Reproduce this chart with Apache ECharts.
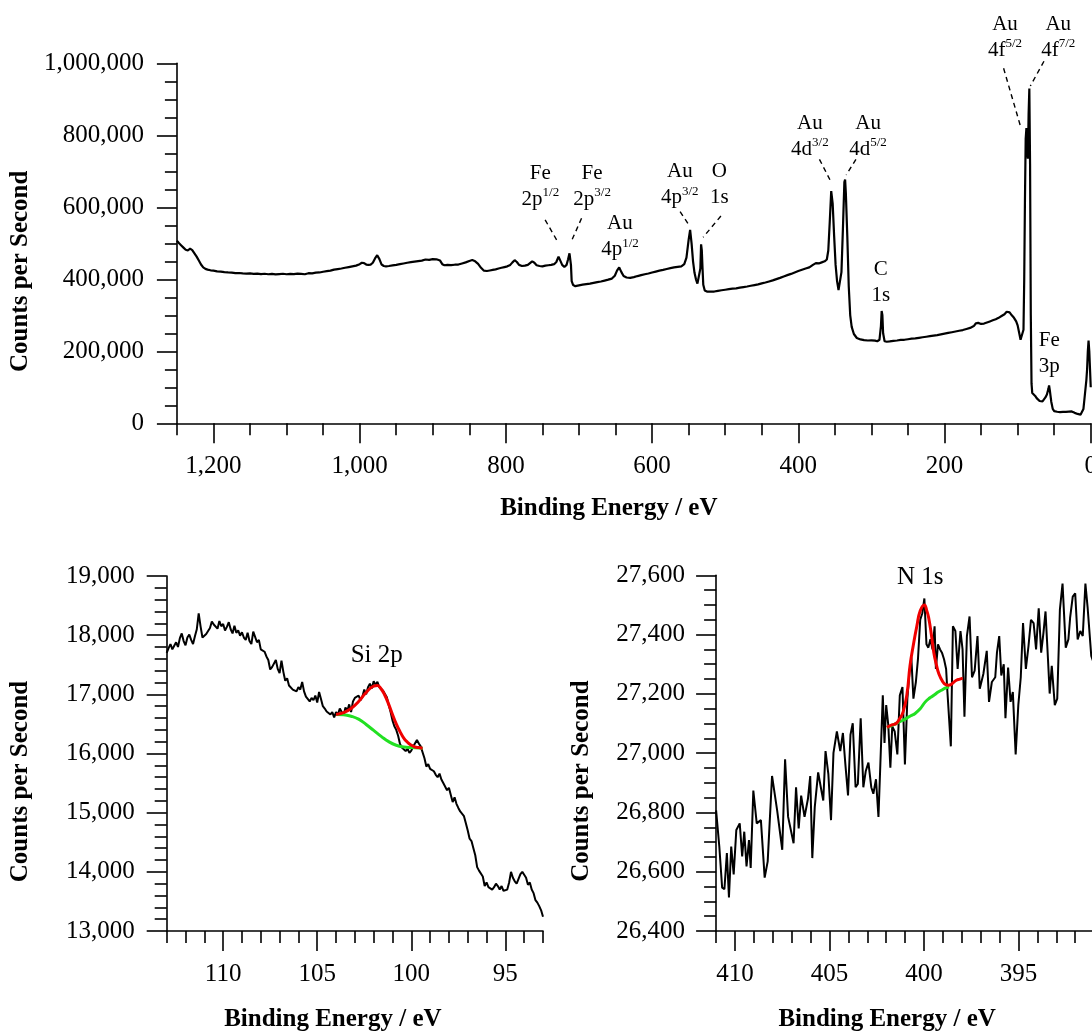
<!DOCTYPE html>
<html>
<head>
<meta charset="utf-8">
<script src="https://cdn.jsdelivr.net/npm/echarts@6/dist/echarts.min.js"></script>
<style>
html,body{margin:0;padding:0;overflow:hidden;background:#fff;}
#chart{width:1100px;height:1033px;}
</style>
</head>
<body>
<div id="chart"></div>
<script>
// ---------- DATA ----------
// Survey spectrum: [binding energy (eV), counts per second]
const surveySpectrum = [
[1250,507000],[1247,500000],[1244,494000],[1241,488000],[1238,482000],[1235,480000],[1232,485000],[1229,481000],
[1226,472000],[1223,463000],[1220,452000],[1217,441000],[1214,433000],[1211,429000],[1208,427000],[1204,425000],
[1200,424000],[1195,422000],[1190,421500],[1185,420000],[1180,419000],[1175,418500],[1170,417000],[1165,417500],
[1160,416500],[1155,416000],[1150,416500],[1145,415000],[1140,416000],[1135,414500],[1130,415500],[1125,414000],
[1120,415000],[1115,413500],[1110,414500],[1105,415500],[1100,414000],[1095,415000],[1090,414500],[1085,416000],
[1080,415000],[1075,414000],[1070,417000],[1065,416500],[1060,418500],[1055,419000],[1050,421000],[1045,422500],
[1040,424000],[1035,427000],[1030,428500],[1025,430000],[1020,432000],[1015,434000],[1010,436000],[1005,438000],
[1000,442000],[997,446000],[994,445000],[991,441000],[988,440000],[985,441000],[982,446000],[979,458000],
[976,467000],[973,456000],[970,441000],[967,437000],[964,436000],[960,437000],[955,438500],[950,440000],
[945,442000],[940,444000],[935,446000],[930,447500],[925,449000],[920,450500],[915,452000],[910,455000],
[905,454000],[900,456000],[895,455500],[890,452000],[887,442000],[884,439000],[880,440000],[875,439500],
[870,440500],[865,441000],[860,444000],[855,447000],[850,451000],[846,453500],[842,450000],[838,443000],
[834,432000],[830,424000],[826,423000],[822,424500],[818,426000],[814,427500],[810,430000],[806,432000],
[802,434000],[798,436000],[794,440000],[791,447000],[788,453000],[785,448000],[782,440000],[778,437000],
[774,438000],[770,440000],[767,445000],[764,450000],[761,446000],[758,439000],[754,437000],[750,436000],
[746,438000],[742,439000],[738,440000],[734,442000],[731,448000],[728,463000],[726,460000],[723,440000],
[720,434000],[717,440000],[715,455000],[713,472000],[711,440000],[710,395000],[708,384000],[705,381000],
[700,383000],[695,385000],[690,386500],[685,388000],[680,390000],[675,392000],[670,394000],[665,396500],
[660,399000],[655,402000],[651,410000],[648,424000],[645,433000],[642,420000],[639,409000],[635,405000],
[630,404000],[625,406000],[620,409000],[615,411500],[610,414000],[605,416000],[600,419000],[595,421500],
[590,424000],[585,426000],[580,428500],[575,431000],[570,433000],[565,434500],[560,436000],[556,442000],
[553,460000],[550,510000],[548,537000],[546,500000],[544,450000],[542,418000],[540,400000],[538,388000],
[536,386000],[534,430000],[533,497000],[532,480000],[531,430000],[530,385000],[528,369000],[525,366000],
[520,365500],[515,366000],[510,368000],[505,369500],[500,371000],[495,372500],[490,374000],[485,375000],
[480,377000],[475,378500],[470,380000],[465,382000],[460,384000],[455,386000],[450,388500],[445,391000],
[440,394000],[435,397000],[430,400500],[425,404000],[420,408000],[415,411500],[410,415000],[405,419000],
[400,423000],[395,426500],[390,430000],[385,433000],[380,440000],[376,445000],[372,444000],[368,447000],
[364,450000],[361,455000],[359,480000],[357,560000],[355,645000],[354,648000],[353,610000],[351,520000],
[349,440000],[347,395000],[345,370000],[343,375000],[341,420000],[339,540000],[337,670000],[336,677000],
[335,640000],[333,520000],[331,380000],[329,300000],[327,268000],[324,248000],[320,237000],[315,233000],
[310,231000],[305,230000],[300,230500],[295,229500],[292,228000],[289,232000],[287,270000],[286,312000],
[285,300000],[284,250000],[282,228000],[279,226500],[275,227500],[270,229000],[265,230000],[260,231500],
[255,232000],[250,233500],[245,235000],[240,236000],[235,237500],[230,239000],[225,240500],[220,242000],
[215,243500],[210,245000],[205,247000],[200,249000],[195,251000],[190,253000],[185,255000],[180,257000],
[175,259000],[170,262000],[165,265000],[160,270000],[157,278000],[154,279000],[150,276000],[146,277000],
[142,280000],[138,283000],[134,286000],[130,289000],[126,293000],[122,298000],[118,303000],[115,310000],
[113,315000],[111,308000],[108,300000],[105,293000],[102,283000],[100,272000],[98,252000],[96,232000],
[94,229000],[92,260000],[91,400000],[90,620000],[89,790000],[88,820000],[87,760000],[86,735000],
[85,860000],[84,930000],[83,720000],[82,300000],[81,110000],[80,84000],[78,80000],[76,76000],
[74,70000],[72,65000],[70,62000],[68,60000],[66,61000],[64,66000],[62,72000],[60,80000],
[58,95000],[57,105000],[56,92000],[54,60000],[52,40000],[50,34000],[46,32000],[42,31000],
[38,31500],[34,32000],[30,32500],[26,33000],[22,29000],[18,26000],[14,24000],[12,23500],
[10,40000],[8,80000],[6,120000],[5,150000],[4,200000],[3,230000],[2,200000],[1,150000],[0,100000]
];
// Peak annotation texts: [element, orbital, spin-orbit superscript]
const peakNames = [
["Fe","2p","1/2"],["Fe","2p","3/2"],["Au","4p","1/2"],["Au","4p","3/2"],["O","1s",""],
["Au","4d","3/2"],["Au","4d","5/2"],["C","1s",""],["Au","4f","5/2"],["Au","4f","7/2"],["Fe","3p",""]
];
// anchor of each annotation in data units [eV, cps]
const peakLabelAnchors = [
[752.9,658300],[682.1,658300],[644.0,518600],[562.1,662200],[508.2,662200],
[384.2,797200],[304.6,797200],[287.1,390000],[117.3,1072200],[44.5,1072200],[56.6,193600]
];
// dashed leader lines in data units [[eV,cps],[eV,cps]]
const leaderLines = [
[[746.3,565000],[728.4,501700]],
[[696.5,569400],[711.3,501700]],
[[561.7,587800],[549.6,550800]],
[[505.9,575800],[530.2,516700]],
[[371.1,733300],[354.7,668300]],
[[321.2,733300],[334.4,689700]],
[[119.2,986100],[96.4,827200]],
[[64.0,1005800],[82.6,936900]]
];

// Si 2p region
const si2pSpectrum = [
[113.0,17700],[112.9,17780],[112.8,17850],[112.7,17760],[112.6,17820],[112.5,17880],[112.4,17800],[112.3,17950],
[112.2,18030],[112.1,17900],[112.0,17830],[111.9,17960],[111.8,18010],[111.7,17920],[111.6,17850],[111.5,17980],
[111.4,18100],[111.3,18370],[111.2,18150],[111.1,17960],[111.0,17990],[110.9,18020],[110.8,18000],[110.7,18120],
[110.6,18230],[110.5,18180],[110.4,18210],[110.3,18110],[110.2,18240],[110.1,18150],[110.0,18190],[109.9,18080],
[109.8,18140],[109.7,18220],[109.6,18100],[109.5,18030],[109.4,18160],[109.3,18040],[109.2,18080],[109.1,17990],
[109.0,18050],[108.9,17960],[108.8,17920],[108.7,18040],[108.6,17900],[108.5,17850],[108.4,18060],[108.3,18070],
[108.2,17880],[108.1,17920],[108.0,17760],[107.9,17770],[107.8,17720],[107.7,17640],[107.6,17580],[107.5,17420],
[107.4,17460],[107.3,17490],[107.2,17580],[107.1,17430],[107.0,17360],[106.9,17570],[106.8,17380],[106.7,17230],
[106.6,17270],[106.5,17150],[106.4,17180],[106.3,17080],[106.2,17100],[106.1,17050],[106.0,17120],[105.9,17080],
[105.8,17210],[105.7,17050],[105.6,16960],[105.5,16930],[105.4,16880],[105.3,16940],[105.2,16900],[105.1,16980],
[105.0,16860],[104.9,17040],[104.8,16920],[104.7,16800],[104.6,16760],[104.5,16710],[104.4,16740],[104.3,16660],
[104.2,16700],[104.1,16610],[104.0,16700],[103.9,16660],[103.8,16760],[103.7,16700],[103.6,16640],[103.5,16780],
[103.4,16720],[103.3,16830],[103.2,16700],[103.1,16880],[103.0,16940],[102.9,16920],[102.8,16980],[102.7,16900],
[102.6,16960],[102.5,17080],[102.4,17000],[102.3,17120],[102.2,17180],[102.1,17100],[102.0,17220],[101.9,17160],
[101.8,17210],[101.7,17120],[101.6,17100],[101.5,17060],[101.4,17040],[101.3,16950],[101.2,16820],[101.1,16700],
[101.0,16560],[100.9,16460],[100.8,16400],[100.7,16300],[100.6,16160],[100.5,16100],[100.4,16120],[100.3,16040],
[100.2,16080],[100.1,16010],[100.0,16050],[99.9,16120],[99.8,16090],[99.7,16230],[99.6,16170],[99.5,16120],
[99.4,16100],[99.3,15920],[99.2,15780],[99.1,15820],[99.0,15740],[98.9,15760],[98.8,15700],[98.7,15640],
[98.6,15600],[98.5,15660],[98.4,15560],[98.3,15500],[98.2,15480],[98.1,15380],[98.0,15420],[97.9,15300],
[97.8,15180],[97.7,15260],[97.6,15150],[97.5,15080],[97.4,15020],[97.3,14990],[97.2,14940],[97.1,14820],
[97.0,14700],[96.9,14560],[96.8,14520],[96.7,14400],[96.6,14280],[96.5,14080],[96.4,14020],[96.3,13990],
[96.2,13920],[96.1,13760],[96.0,13820],[95.9,13740],[95.8,13760],[95.7,13700],[95.6,13740],[95.5,13800],
[95.4,13760],[95.3,13700],[95.2,13760],[95.1,13680],[95.0,13650],[94.9,13700],[94.8,13820],[94.7,14000],
[94.6,13900],[94.5,13840],[94.4,13800],[94.3,13880],[94.2,13960],[94.1,14000],[94.0,14020],[93.9,13900],
[93.8,13780],[93.7,13820],[93.6,13700],[93.5,13640],[93.4,13520],[93.3,13480],[93.2,13420],[93.1,13350],
[93.0,13240]
];
const si2pEnvelope = [
[104.0,16660],[103.6,16690],[103.2,16760],[102.8,16880],[102.4,17030],[102.0,17140],[101.8,17150],[101.6,17090],
[101.4,16980],[101.2,16830],[101.0,16660],[100.8,16500],[100.6,16370],[100.4,16260],[100.2,16190],[100.0,16140],
[99.8,16110],[99.6,16100],[99.4,16090]
];
const si2pBackground = [
[104.0,16660],[103.6,16655],[103.2,16630],[102.8,16580],[102.4,16490],[102.0,16390],[101.6,16290],[101.2,16200],
[100.8,16140],[100.4,16110],[100.0,16100],[99.6,16095],[99.4,16090]
];
const si2pLabel = [[101.84,17650,"Si 2p"]];

// N 1s region
const n1sSpectrum = [
[411.0,26807],[410.83,26685],[410.68,26546],[410.56,26541],[410.43,26663],[410.32,26513],[410.2,26685],[410.07,26591],
[409.93,26741],[409.75,26763],[409.62,26652],[409.51,26735],[409.39,26618],[409.26,26707],[409.17,26613],[409.03,26874],
[408.85,26763],[408.63,26774],[408.43,26580],[408.27,26635],[408.04,26923],[407.77,26807],[407.5,26674],[407.35,26979],
[407.19,26785],[406.9,26696],[406.77,26885],[406.63,26746],[406.5,26857],[406.32,26785],[406.14,26846],[406.02,26923],
[405.91,26646],[405.78,26818],[405.6,26935],[405.46,26885],[405.33,26840],[405.21,27007],[405.06,26929],[404.92,26774],
[404.79,27001],[404.61,27073],[404.43,27007],[404.29,27068],[404.16,26962],[404.02,26857],[403.89,27062],[403.77,27101],
[403.62,26885],[403.5,26896],[403.35,27118],[403.21,26885],[403.08,26940],[402.94,26968],[402.79,26885],[402.68,26863],
[402.54,26912],[402.41,26785],[402.31,26962],[402.18,27195],[402.09,27034],[402.0,27162],[401.89,27095],[401.78,26951],
[401.68,27090],[401.55,27073],[401.41,26996],[401.28,27195],[401.14,27223],[401.01,26962],[400.88,27184],[400.77,27273],
[400.67,27323],[400.56,27184],[400.43,27240],[400.32,27317],[400.2,27450],[400.09,27472],[399.98,27522],[399.87,27367],
[399.77,27356],[399.66,27384],[399.55,27350],[399.44,27428],[399.37,27284],[399.26,27367],[399.15,27350],[399.05,27339],
[398.94,27317],[398.83,27284],[398.76,27206],[398.58,27023],[398.47,27428],[398.34,27412],[398.22,27284],[398.07,27412],
[397.96,27350],[397.86,27123],[397.73,27395],[397.59,27461],[397.46,27256],[397.32,27278],[397.17,27395],[397.05,27217],
[396.86,27267],[396.68,27345],[396.56,27173],[396.41,27240],[396.23,27256],[396.14,27339],[396.02,27395],[395.91,27262],
[395.78,27300],[395.69,27118],[395.55,27289],[395.42,27173],[395.3,27206],[395.15,26996],[395.01,27162],[394.88,27256],
[394.76,27439],[394.61,27284],[394.47,27362],[394.34,27450],[394.2,27439],[394.07,27350],[393.93,27489],[393.8,27339],
[393.68,27406],[393.57,27478],[393.44,27317],[393.35,27201],[393.24,27295],[393.08,27162],[392.95,27184],[392.81,27484],
[392.67,27572],[392.5,27356],[392.36,27384],[392.27,27456],[392.13,27528],[392.0,27539],[391.87,27384],[391.73,27412],
[391.6,27395],[391.46,27572],[391.34,27489],[391.15,27328],[391.0,27300]
];
const n1sEnvelope = [
[401.96,27087],[401.7,27095],[401.46,27101],[401.3,27115],[401.1,27140],[400.9,27200],[400.74,27295],[400.55,27370],
[400.38,27428],[400.2,27480],[399.98,27500],[399.85,27480],[399.75,27456],[399.6,27395],[399.48,27339],[399.35,27300],
[399.21,27267],[399.0,27240],[398.85,27231],[398.7,27229],[398.58,27231],[398.45,27238],[398.31,27245],[398.1,27250],
[397.95,27253]
];
const n1sBackground = [
[401.96,27087],[401.6,27096],[401.28,27106],[401.0,27115],[400.7,27126],[400.47,27134],[400.2,27150],[399.93,27173],
[399.7,27186],[399.48,27195],[399.25,27206],[399.03,27214],[398.85,27220],[398.67,27223]
];
const n1sLabel = [[400.2,27594,"N 1s"]];

// tick values
const surveyMajorTicks = [0,200,400,600,800,1000,1200];
const surveyMinorTicks = [50,100,150,250,300,350,450,500,550,650,700,750,850,900,950,1050,1100,1150,1250];
const siMajorTicks = [95,100,105,110];
const siMinorTicks = [93,94,96,97,98,99,101,102,103,104,106,107,108,109,111,112,113];
const nMajorTicks = [395,400,405,410];
const nMinorTicks = [391,392,393,394,396,397,398,399,401,402,403,404,406,407,408,409,411];

// ---------- CHART ----------
const FONT = "'Liberation Serif','Times New Roman',serif";
const fmt = v => Number(v).toLocaleString('en-US');
const axisLineStyle = {color:'#000', width:1.6};

function majorX(grid, min, max, ticks, nameShift, gap) {
  return {
    type:'value', gridIndex:grid, min:min, max:max, inverse:true, position:'bottom',
    name:'Binding Energy / eV', nameLocation:'middle', nameGap:gap,
    nameTextStyle:{fontFamily:FONT, fontWeight:'bold', fontSize:25, color:'#000', padding:[0,nameShift*2,0,0]},
    axisLine:{show:true, onZero:false, lineStyle:axisLineStyle},
    axisTick:{show:true, length:20, customValues:ticks, lineStyle:axisLineStyle},
    axisLabel:{show:true, customValues:ticks, margin:31, fontFamily:FONT, fontSize:25, color:'#000', formatter:fmt},
    splitLine:{show:false}
  };
}
function minorX(grid, min, max, ticks) {
  return {
    type:'value', gridIndex:grid, min:min, max:max, inverse:true, position:'bottom',
    axisLine:{show:false, onZero:false},
    axisTick:{show:true, length:12, customValues:ticks, lineStyle:axisLineStyle},
    axisLabel:{show:false}, splitLine:{show:false}
  };
}
function yAx(grid, min, max, interval, minorSplit, margin, gap) {
  return {
    type:'value', gridIndex:grid, min:min, max:max, interval:interval,
    name:'Counts per Second', nameLocation:'middle', nameRotate:90, nameGap:gap,
    nameTextStyle:{fontFamily:FONT, fontWeight:'bold', fontSize:25, color:'#000', padding:[0,56,0,0]},
    axisLine:{show:true, onZero:false, lineStyle:axisLineStyle},
    axisTick:{show:true, length:20, lineStyle:axisLineStyle},
    minorTick:{show:true, splitNumber:minorSplit, length:12, lineStyle:axisLineStyle},
    axisLabel:{margin:margin, fontFamily:FONT, fontSize:25, color:'#000', formatter:fmt},
    splitLine:{show:false}, minorSplitLine:{show:false}
  };
}

const peakLabelData = peakLabelAnchors.map((p, i) => {
  const n = peakNames[i];
  return {value:[p[0], p[1]], label:{formatter:'{a|' + n[0] + '}\n{a|' + n[1] + '}' + (n[2] ? '{s|' + n[2] + '}' : '')}};
});

const richPeak = {
  a:{fontFamily:FONT, fontSize:21, lineHeight:26, color:'#000', textBorderWidth:0, opacity:1},
  s:{fontFamily:FONT, fontSize:13, lineHeight:16, verticalAlign:'top', color:'#000', textBorderWidth:0, opacity:1}
};
const plainLabel = {show:true, position:'inside', formatter:'{b}', fontFamily:FONT, fontSize:25, opacity:1,
                    color:'#000', textBorderWidth:0, textBorderColor:'transparent'};

const option = {
  animation:false,
  backgroundColor:'#fff',
  textStyle:{fontFamily:FONT},
  grid:[
    {left:168.7, top:63.3, width:927.3, height:360},
    {left:166.7, top:576, width:376.3, height:360},
    {left:716.1, top:575.3, width:378, height:360.5}
  ],
  xAxis:[
    majorX(0, 0, 1250, surveyMajorTicks, 25, 73),
    minorX(0, 0, 1250, surveyMinorTicks),
    majorX(1, 93, 113, siMajorTicks, 22, 76),
    minorX(1, 93, 113, siMinorTicks),
    majorX(2, 391, 411, nMajorTicks, 18, 76),
    minorX(2, 391, 411, nMinorTicks)
  ],
  yAxis:[
    yAx(0, 0, 1000000, 200000, 4, 33, 133),
    yAx(1, 13000, 19000, 1000, 5, 32, 134),
    yAx(2, 26400, 27600, 200, 4, 31, 122)
  ],
  series:[
    {type:'line', xAxisIndex:0, yAxisIndex:0, data:surveySpectrum, showSymbol:false, symbol:'none',
     lineStyle:{color:'#000', width:2.2}, z:3},
    {type:'scatter', xAxisIndex:0, yAxisIndex:0, data:peakLabelData, symbolSize:0, clip:false, silent:true,
     itemStyle:{color:'#fff', opacity:1},
     label:{show:true, position:'inside', align:'center', verticalAlign:'middle', color:'#000', opacity:1,
            textBorderWidth:0, textBorderColor:'transparent', rich:richPeak}},
    {type:'lines', coordinateSystem:'cartesian2d', xAxisIndex:0, yAxisIndex:0, clip:false, silent:true,
     data:leaderLines.map(c => ({coords:c})),
     lineStyle:{color:'#000', width:1.4, type:[5,4], opacity:1}},

    {type:'line', xAxisIndex:2, yAxisIndex:1, data:si2pSpectrum, showSymbol:false, symbol:'none',
     lineStyle:{color:'#000', width:2}, z:3},
    {type:'line', xAxisIndex:2, yAxisIndex:1, data:si2pBackground, showSymbol:false, symbol:'none', smooth:true,
     lineStyle:{color:'#22e022', width:3}, z:4},
    {type:'line', xAxisIndex:2, yAxisIndex:1, data:si2pEnvelope, showSymbol:false, symbol:'none', smooth:true,
     lineStyle:{color:'#f00000', width:3}, z:5},
    {type:'scatter', xAxisIndex:2, yAxisIndex:1, data:si2pLabel.map(d => ({value:[d[0], d[1]], name:d[2]})),
     symbolSize:0, clip:false, silent:true, itemStyle:{color:'#fff', opacity:1}, label:plainLabel},

    {type:'line', xAxisIndex:4, yAxisIndex:2, data:n1sSpectrum, showSymbol:false, symbol:'none',
     lineStyle:{color:'#000', width:2}, z:3},
    {type:'line', xAxisIndex:4, yAxisIndex:2, data:n1sBackground, showSymbol:false, symbol:'none', smooth:true,
     lineStyle:{color:'#22e022', width:3}, z:4},
    {type:'line', xAxisIndex:4, yAxisIndex:2, data:n1sEnvelope, showSymbol:false, symbol:'none', smooth:true,
     lineStyle:{color:'#f00000', width:3}, z:5},
    {type:'scatter', xAxisIndex:4, yAxisIndex:2, data:n1sLabel.map(d => ({value:[d[0], d[1]], name:d[2]})),
     symbolSize:0, clip:false, silent:true, itemStyle:{color:'#fff', opacity:1}, label:plainLabel}
  ]
};

const chart = echarts.init(document.getElementById('chart'), null, {renderer:'canvas'});
chart.setOption(option);
</script>
</body>
</html>
